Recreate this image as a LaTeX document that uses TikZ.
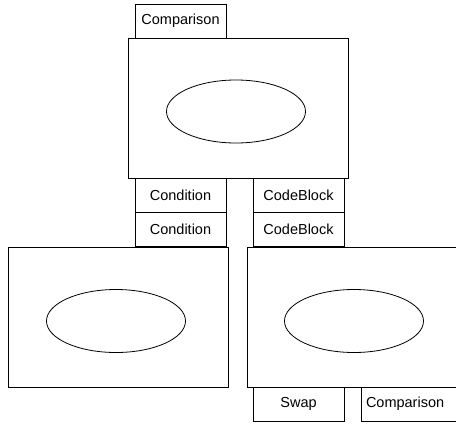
\documentclass[tikz,border=0pt]{standalone}
\usepackage{fontspec}
\setmainfont{Liberation Sans}
\usetikzlibrary{shapes.geometric}
\begin{document}
\begin{tikzpicture}[x=1pt,y=-1pt,
  every node/.style={inner sep=0pt,outer sep=0pt},
  lbl/.style={draw=black,line width=1pt,rectangle,minimum width=91pt,minimum height=34pt,font=\fontsize{14.5}{16}\selectfont},
  panel/.style={draw=black,line width=1pt,rectangle,minimum width=220pt,minimum height=140pt},
  oval/.style={draw=black,line width=0.8pt,ellipse,minimum width=139pt,minimum height=63pt}]
\useasboundingbox (0,0) rectangle (456,424);
\clip (0,0) rectangle (456,424);
\fill[white] (0,0) rectangle (456,424);
% top panel
\node[panel] (top) at (238.5,108) {};
\node[oval] (topov) at (236,111.5) {};
\node[lbl] (cmpTop) at (180.5,21) {Comparison};
\node[lbl] (cond1) at (180.5,195) {Condition};
\node[lbl] (cond2) at (180.5,229.5) {Condition};
\node[lbl] (cb1) at (298.5,195) {CodeBlock};
\node[lbl] (cb2) at (298.5,229.5) {CodeBlock};
% lower panels
\node[panel] (left) at (118,317) {};
\node[oval] (leftov) at (116,321) {};
\node[panel] (right) at (357,317) {};
\node[oval] (rightov) at (354,321) {};
\node[lbl] (swap) at (298.5,404) {Swap};
\node[lbl,minimum width=97pt] (cmpBot) at (409.5,404) {};
\node[anchor=west,font=\fontsize{14.5}{16}\selectfont] (cmpBotTxt) at (366,404) {Comparison};
\end{tikzpicture}
\end{document}
